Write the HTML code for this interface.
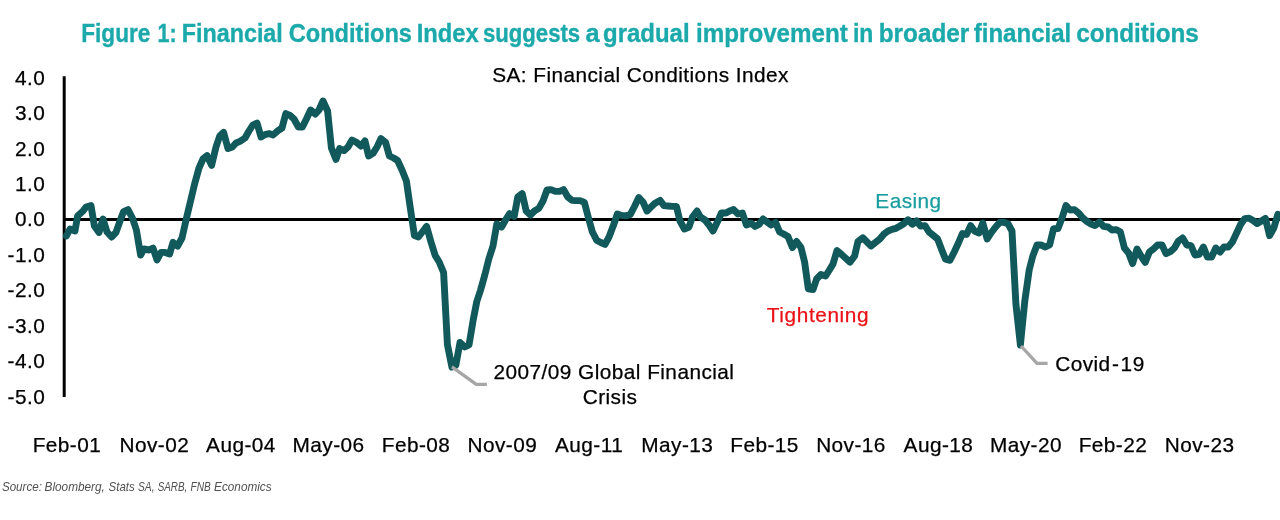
<!DOCTYPE html>
<html lang="en">
<head>
<meta charset="utf-8">
<title>Figure 1: Financial Conditions Index</title>
<style>
html,body{margin:0;padding:0;background:#fff;}
body{width:1280px;height:520px;overflow:hidden;}
svg{display:block;}
text{font-family:"Liberation Sans",Arial,Helvetica,sans-serif;}
.t{font-weight:bold;font-size:25.4px;fill:#1CA9AB;stroke:#1CA9AB;stroke-width:0.35px;}
.a{font-size:20.8px;fill:#000;letter-spacing:0.45px;stroke:#000;stroke-width:0.25px;}
.s{font-size:13.1px;font-style:italic;fill:#505050;}
</style>
</head>
<body>
<svg width="1280" height="520" viewBox="0 0 1280 520">
<rect x="0" y="0" width="1280" height="520" fill="#ffffff"/>
<text class="t" y="42"><tspan x="81.2" textLength="69.2" lengthAdjust="spacingAndGlyphs">Figure</tspan> <tspan x="157.6" textLength="19.2" lengthAdjust="spacingAndGlyphs">1:</tspan> <tspan x="181.8" textLength="101.0" lengthAdjust="spacingAndGlyphs">Financial</tspan> <tspan x="288.7" textLength="123.3" lengthAdjust="spacingAndGlyphs">Conditions</tspan> <tspan x="416.7" textLength="62.1" lengthAdjust="spacingAndGlyphs">Index</tspan> <tspan x="482.9" textLength="97.3" lengthAdjust="spacingAndGlyphs">suggests</tspan> <tspan x="585.5" textLength="14.1" lengthAdjust="spacingAndGlyphs">a</tspan> <tspan x="603.0" textLength="86.6" lengthAdjust="spacingAndGlyphs">gradual</tspan> <tspan x="696.0" textLength="151.8" lengthAdjust="spacingAndGlyphs">improvement</tspan> <tspan x="853.0" textLength="20.4" lengthAdjust="spacingAndGlyphs">in</tspan> <tspan x="878.7" textLength="90.6" lengthAdjust="spacingAndGlyphs">broader</tspan> <tspan x="973.7" textLength="97.6" lengthAdjust="spacingAndGlyphs">financial</tspan> <tspan x="1076.2" textLength="122.6" lengthAdjust="spacingAndGlyphs">conditions</tspan></text>
<text class="a" x="640.5" y="81.8" text-anchor="middle">SA: Financial Conditions Index</text>
<text class="a" x="45.2" y="84.6" text-anchor="end">4.0</text>
<text class="a" x="45.2" y="120.0" text-anchor="end">3.0</text>
<text class="a" x="45.2" y="155.5" text-anchor="end">2.0</text>
<text class="a" x="45.2" y="190.9" text-anchor="end">1.0</text>
<text class="a" x="45.2" y="226.4" text-anchor="end">0.0</text>
<text class="a" x="45.2" y="261.9" text-anchor="end">-1.0</text>
<text class="a" x="45.2" y="297.3" text-anchor="end">-2.0</text>
<text class="a" x="45.2" y="332.8" text-anchor="end">-3.0</text>
<text class="a" x="45.2" y="368.2" text-anchor="end">-4.0</text>
<text class="a" x="45.2" y="403.6" text-anchor="end">-5.0</text>
<text class="a" x="67.0" y="452.1" text-anchor="middle">Feb-01</text>
<text class="a" x="154.3" y="452.1" text-anchor="middle">Nov-02</text>
<text class="a" x="241.0" y="452.1" text-anchor="middle">Aug-04</text>
<text class="a" x="328.6" y="452.1" text-anchor="middle">May-06</text>
<text class="a" x="416.1" y="452.1" text-anchor="middle">Feb-08</text>
<text class="a" x="502.4" y="452.1" text-anchor="middle">Nov-09</text>
<text class="a" x="589.1" y="452.1" text-anchor="middle">Aug-11</text>
<text class="a" x="677.3" y="452.1" text-anchor="middle">May-13</text>
<text class="a" x="764.6" y="452.1" text-anchor="middle">Feb-15</text>
<text class="a" x="851.0" y="452.1" text-anchor="middle">Nov-16</text>
<text class="a" x="938.5" y="452.1" text-anchor="middle">Aug-18</text>
<text class="a" x="1026.0" y="452.1" text-anchor="middle">May-20</text>
<text class="a" x="1113.0" y="452.1" text-anchor="middle">Feb-22</text>
<text class="a" x="1199.6" y="452.1" text-anchor="middle">Nov-23</text>
<line x1="64.2" y1="76.2" x2="64.2" y2="397" stroke="#000" stroke-width="3"/>
<line x1="64" y1="219.45" x2="1280" y2="219.45" stroke="#000" stroke-width="3"/>
<polyline points="66.4,236.0 70.0,229.0 75.0,231.0 77.6,216.0 83.0,211.0 86.0,207.0 91.0,205.6 94.4,226.0 99.0,232.4 103.0,219.0 107.0,232.0 111.6,237.0 116.0,232.4 120.0,221.0 123.6,211.6 128.0,209.6 132.4,218.0 136.4,230.0 140.6,255.0 144.0,249.0 149.0,250.0 153.0,248.0 157.0,260.0 161.0,252.4 165.0,252.4 169.6,254.0 173.0,242.4 177.6,246.0 182.0,238.0 186.5,218.0 190.8,200.0 194.6,184.0 199.0,168.0 203.0,159.0 207.0,155.6 211.6,165.4 216.0,147.0 219.7,136.0 223.6,132.4 228.0,148.6 232.4,147.0 236.0,143.0 240.0,141.4 245.0,138.0 249.0,131.0 252.8,125.0 257.0,123.0 261.0,137.0 265.0,134.6 269.0,133.6 273.0,135.0 278.0,130.6 282.0,128.0 285.8,113.6 290.0,115.4 294.0,119.0 298.4,127.0 302.4,127.0 306.4,119.0 310.6,110.0 315.4,114.0 319.0,110.0 323.0,101.0 327.6,111.0 331.4,148.0 336.0,159.4 339.6,148.6 344.0,150.6 348.0,147.0 352.0,140.0 356.0,142.0 361.0,146.0 365.0,141.0 368.6,156.0 373.0,153.4 377.0,147.0 381.0,138.6 385.6,142.5 389.4,156.0 393.6,158.0 397.6,160.5 402.0,170.0 406.4,181.0 410.6,210.0 414.4,235.6 418.4,237.0 422.7,231.5 426.6,226.4 431.0,242.0 435.2,255.5 439.2,262.0 443.6,272.5 447.4,344.5 451.9,367.0 455.8,365.5 460.0,342.5 464.8,347.0 469.0,345.0 473.2,320.0 476.8,301.5 480.6,290.0 484.8,275.0 488.8,259.0 493.0,246.0 496.8,224.0 501.6,227.0 505.5,220.0 509.6,213.6 514.2,216.4 517.8,197.0 522.2,193.6 526.2,211.0 530.4,215.0 534.4,211.0 538.8,208.4 543.0,201.0 547.0,190.0 551.0,189.6 555.4,191.4 559.6,191.4 563.6,189.6 567.8,197.0 572.0,200.4 576.0,200.6 580.0,200.6 584.4,202.4 588.2,217.0 592.4,232.0 596.8,240.4 600.8,242.5 605.0,244.4 609.0,237.0 613.2,226.0 617.4,214.0 621.6,215.4 625.8,215.8 630.2,214.6 634.2,207.0 638.8,197.5 643.0,202.0 647.0,211.0 651.0,207.0 655.0,203.2 660.0,200.4 664.0,205.6 668.0,206.0 672.4,206.4 676.4,206.4 680.0,221.0 684.4,229.0 689.0,227.0 692.4,217.0 697.0,211.0 700.4,217.0 705.0,220.0 709.0,225.0 713.0,231.0 717.6,221.6 721.4,213.0 726.0,213.0 729.6,211.0 733.6,209.6 738.0,214.0 742.4,213.0 746.4,225.0 751.0,223.0 755.0,226.4 759.0,224.4 763.0,219.0 767.0,222.0 771.0,225.0 775.6,222.4 779.6,232.0 783.6,234.0 788.0,236.5 792.4,247.6 796.6,241.5 801.0,247.5 804.6,262.0 808.3,288.8 813.0,289.6 816.6,279.0 821.0,274.4 825.6,276.0 829.4,270.0 833.0,264.0 837.0,250.6 841.6,254.5 846.0,258.5 850.0,262.2 854.6,256.0 858.0,241.4 862.8,237.8 867.0,242.0 871.0,246.0 875.4,242.5 879.8,239.0 884.0,234.0 888.0,231.0 892.0,229.4 896.0,228.3 900.0,226.0 904.0,223.5 908.0,219.8 912.4,224.2 916.4,221.0 920.6,226.0 925.0,225.6 929.0,232.0 933.4,235.5 937.6,239.0 941.8,250.0 945.5,259.2 950.0,260.3 954.2,252.0 958.4,243.0 962.4,233.6 966.6,234.4 970.6,225.6 974.6,231.0 979.0,233.0 982.8,223.0 987.2,239.0 991.4,232.5 995.6,227.0 999.8,222.4 1003.8,222.2 1008.0,223.8 1012.0,231.0 1015.9,304.0 1020.4,345.0 1024.8,301.0 1029.2,270.0 1032.8,256.0 1037.0,245.0 1041.0,245.0 1045.4,247.0 1049.6,245.0 1053.6,228.6 1058.0,228.6 1062.0,218.0 1066.0,205.6 1070.0,210.0 1074.4,209.6 1078.6,213.0 1082.8,218.0 1087.0,221.5 1091.0,224.0 1095.0,225.6 1099.6,222.0 1103.6,226.4 1108.0,227.0 1112.0,230.0 1116.4,229.6 1120.4,232.0 1124.4,248.0 1128.6,253.0 1132.6,263.6 1137.0,249.0 1141.0,256.0 1145.2,262.4 1149.4,252.0 1153.4,249.0 1157.6,245.0 1162.0,245.0 1166.0,253.6 1170.4,251.6 1174.4,248.0 1178.4,241.0 1182.6,238.0 1186.8,245.0 1191.0,245.6 1195.0,255.0 1199.2,254.4 1203.4,247.0 1207.4,257.0 1211.6,257.0 1215.8,248.0 1220.0,252.0 1224.0,247.0 1228.2,247.0 1232.4,242.0 1236.6,233.0 1240.6,224.5 1244.8,218.6 1249.0,218.1 1253.0,220.5 1257.2,223.6 1261.4,221.0 1265.4,218.4 1269.6,235.6 1273.8,228.0 1277.8,214.4" fill="none" stroke="#12595C" stroke-width="6.9" stroke-linejoin="round" stroke-linecap="round"/>
<polyline points="451.9,366.9 476.3,384.4 486.9,384.4" fill="none" stroke="#A6A6A6" stroke-width="3.3" stroke-linejoin="round"/>
<polyline points="1021,346 1037,363.3 1047.6,363.3" fill="none" stroke="#A6A6A6" stroke-width="3.3" stroke-linejoin="round"/>
<text class="a" x="908.5" y="207.6" text-anchor="middle" style="fill:#1A9D9F;stroke:#1A9D9F">Easing</text>
<text class="a" x="818" y="322" text-anchor="middle" style="fill:#EB1217;stroke:#EB1217;letter-spacing:0.6px">Tightening</text>
<text class="a" x="614" y="378.6" text-anchor="middle">2007/09 Global Financial</text>
<text class="a" x="610" y="403.6" text-anchor="middle">Crisis</text>
<text class="a" x="1055.2" y="371">Covid<tspan dx="1.3">-</tspan><tspan dx="1.3">19</tspan></text>
<text class="s" y="490.8"><tspan x="1.9" textLength="40.0" lengthAdjust="spacingAndGlyphs">Source:</tspan> <tspan x="44.5" textLength="60.4" lengthAdjust="spacingAndGlyphs">Bloomberg,</tspan> <tspan x="108.6" textLength="26.2" lengthAdjust="spacingAndGlyphs">Stats</tspan> <tspan x="138.0" textLength="16.5" lengthAdjust="spacingAndGlyphs">SA,</tspan> <tspan x="157.7" textLength="29.6" lengthAdjust="spacingAndGlyphs">SARB,</tspan> <tspan x="190.5" textLength="20.3" lengthAdjust="spacingAndGlyphs">FNB</tspan> <tspan x="214.1" textLength="57.5" lengthAdjust="spacingAndGlyphs">Economics</tspan></text>
</svg>
</body>
</html>
